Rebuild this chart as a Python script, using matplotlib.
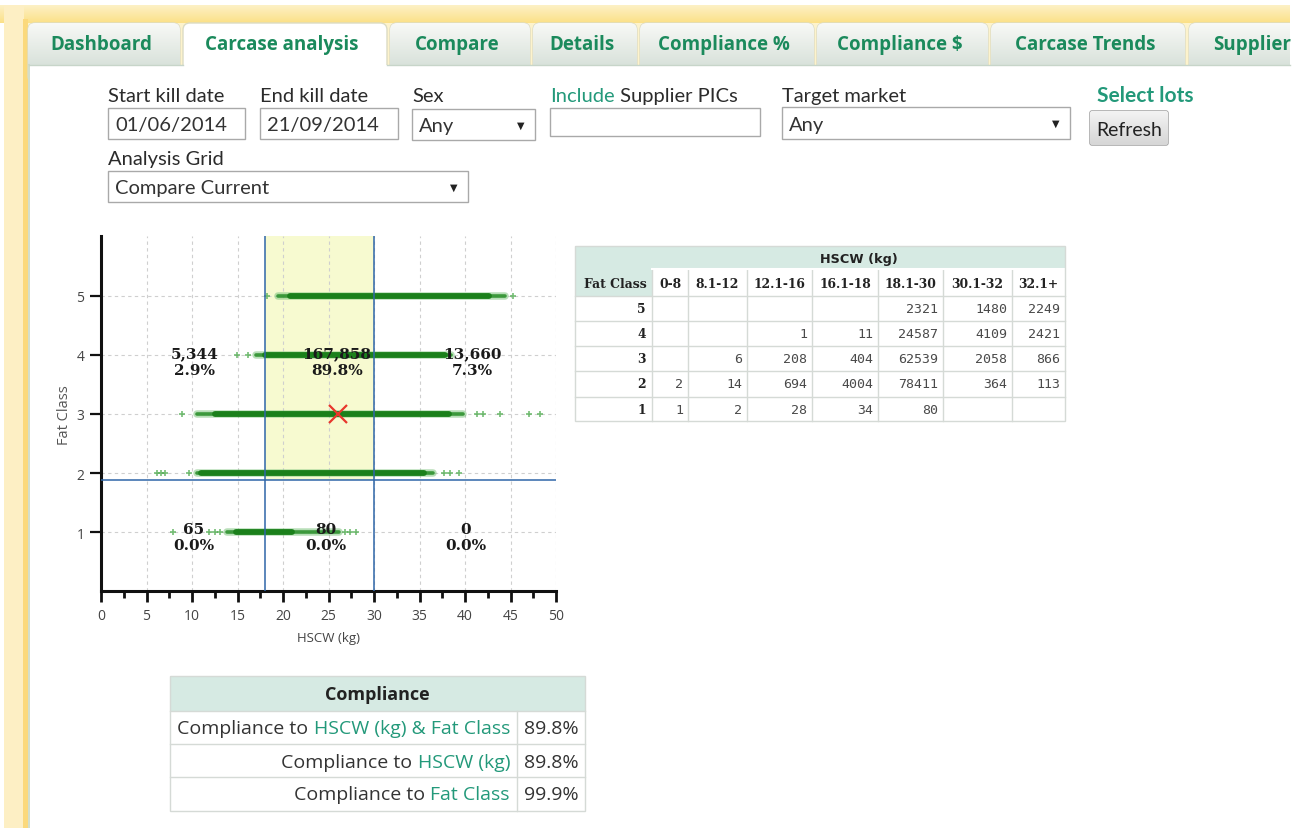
import matplotlib
matplotlib.use('Agg')
import matplotlib.pyplot as plt
from matplotlib.patches import Rectangle, FancyBboxPatch
import numpy as np

# ------------------------------------------------------------------ data
tab_names = ['Dashboard', 'Carcase analysis', 'Compare', 'Details',
             'Compliance %', 'Compliance $', 'Carcase Trends', 'Supplier']
active_tab = 'Carcase analysis'

start_kill_date = '01/06/2014'
end_kill_date = '21/09/2014'
sex_value = 'Any'
target_market = 'Any'
analysis_grid = 'Compare Current'

fat_classes = [5, 4, 3, 2, 1]
streak_outer_start = [19.4, 17.0, 10.5, 10.5, 13.8]
streak_outer_end = [44.4, 38.5, 39.8, 36.5, 26.2]
streak_core_start = [20.8, 18.0, 12.5, 11.0, 14.8]
streak_core_end = [42.6, 37.8, 38.2, 35.5, 21.0]
sparse_fat5 = [18.2, 45.3]
sparse_fat4 = [14.9, 16.2]
sparse_fat3 = [8.9, 41.3, 42.0, 43.9, 47.0, 48.2]
sparse_fat2 = [6.2, 6.6, 7.0, 9.7, 37.7, 38.3, 39.3]
sparse_fat1 = [7.9, 11.9, 12.5, 13.1, 26.8, 27.4, 28.0]

hscw_low, hscw_high = 18, 30
fat_low = 1.89
centroid_hscw, centroid_fat = 26, 3

region_counts = ['5,344', '167,858', '13,660', '65', '80', '0']
region_pcts = ['2.9%', '89.8%', '7.3%', '0.0%', '0.0%', '0.0%']

grid_cols = ['0-8', '8.1-12', '12.1-16', '16.1-18', '18.1-30', '30.1-32', '32.1+']
grid_rows = [5, 4, 3, 2, 1]
grid_fat5 = [None, None, None, None, 2321, 1480, 2249]
grid_fat4 = [None, None, 1, 11, 24587, 4109, 2421]
grid_fat3 = [None, 6, 208, 404, 62539, 2058, 866]
grid_fat2 = [2, 14, 694, 4004, 78411, 364, 113]
grid_fat1 = [1, 2, 28, 34, 80, None, None]

compliance_targets = ['HSCW (kg) & Fat Class', 'HSCW (kg)', 'Fat Class']
compliance_values = ['89.8%', '89.8%', '99.9%']

# ------------------------------------------------------------------ styles
GREEN_TAB = '#1b8a5c'
TEAL = '#23997a'
TEXT = '#2b2b2b'
HEAD_BG = '#d6eae3'
CELL_LINE = '#d5dad6'
BOX_LINE = '#a9a9a9'
UI_FONT = ['Lato', 'DejaVu Sans']
OS_FONT = ['Open Sans', 'DejaVu Sans']
RIGHT = 1290

fig = plt.figure(figsize=(13.01, 8.29), dpi=100)
fig.patch.set_facecolor('white')
ui = fig.add_axes([0, 0, 1, 1])
ui.axis('off')
ui.set_aspect('auto')
renderer = fig.canvas.get_renderer()


def grad_fill(x0, x1, y0, y1, top, bottom, clip=None, z=1):
    c0 = np.array(matplotlib.colors.to_rgb(top))
    c1 = np.array(matplotlib.colors.to_rgb(bottom))
    t = np.linspace(0, 1, 64)[:, None, None]
    img = c0 * (1 - t) + c1 * t
    img = np.repeat(img, 2, axis=1)
    im = ui.imshow(img, extent=[x0, x1, y1, y0], origin='upper',
                   aspect='auto', zorder=z, interpolation='bilinear')
    if clip is not None:
        im.set_clip_path(clip)
    return im


def rect(x0, y0, x1, y1, fc='white', ec='none', lw=1, z=2):
    r = Rectangle((x0, y0), x1 - x0, y1 - y0, fc=fc, ec=ec, lw=lw, zorder=z)
    ui.add_patch(r)
    return r


def txt(x, y, s, size=11, color=TEXT, ha='left', va='center', weight='normal',
        family=UI_FONT, z=6, **kw):
    return ui.text(x, y, s, fontsize=size, color=color, ha=ha, va=va,
                   fontweight=weight, family=family, zorder=z, **kw)


def width_px(t):
    bb = t.get_window_extent(renderer=renderer)
    return bb.width


# ---- page frame
rect(0, 0, 1301, 829, fc='white', z=0)
grad_fill(0, RIGHT, 6, 24, '#fdf1c6', '#fbe087', z=0.5)
rect(4, 24, RIGHT, 66, fc='#fdf3cc', z=0.5)
rect(4, 6, 24, 829, fc='#fdefc4', z=0.6)
rect(23, 20, 28, 829, fc='#fbd97c', z=0.7)
rect(28, 66, 1301, 829, fc='white', z=2)
ui.plot([29, 29], [66, 829], color='#c9d8c3', lw=1.2, zorder=2.5)

# ---- tabs
tab_x = [(28, 180), (183, 387), (390, 530), (533, 637), (640, 814),
         (817, 988), (991, 1185), (1189, RIGHT + 20)]
for name, (x0, x1) in zip(tab_names, tab_x):
    active = name == active_tab
    p = FancyBboxPatch((x0, 24), x1 - x0, 60,
                       boxstyle='round,pad=0,rounding_size=7',
                       fc='white' if active else '#e6ece6',
                       ec='#dcdcc4', lw=1, zorder=1.5 if active else 1)
    ui.add_patch(p)
    if not active:
        grad_fill(x0, x1, 24, 66, '#f8f9f6', '#d9e2db', clip=p, z=1.2)
    if name == tab_names[-1]:
        txt(1213, 45, name, size=13.5, color=GREEN_TAB, weight='bold',
            family=OS_FONT, z=4)
    else:
        txt((x0 + x1) / 2 - 3, 45, name, size=13.5, color=GREEN_TAB,
            weight='bold', family=OS_FONT, ha='center', z=4)
rect(RIGHT, 20, 1301, 66, fc='white', z=1.6)
ui.plot([29, 183], [66, 66], color='#c7d5c9', lw=1, zorder=2.6)
ui.plot([387, RIGHT], [66, 66], color='#c7d5c9', lw=1, zorder=2.6)


# ---- form
def box(x0, y0, x1, y1, text='', arrow=False):
    rect(x0, y0, x1, y1, fc='white', ec=BOX_LINE, lw=1, z=4)
    if text:
        txt(x0 + 7, (y0 + y1) / 2 + 1, text, size=14.5, color='#333333')
    if arrow:
        txt(x1 - 14, (y0 + y1) / 2, '\u25bc', size=7, color='#222222',
            family=['DejaVu Sans'], ha='center')


LBL = 14.5
txt(108, 96, 'Start kill date', size=LBL)
box(108, 109, 245, 140, start_kill_date)
txt(260, 96, 'End kill date', size=LBL)
box(260, 109, 398, 140, end_kill_date)
txt(412, 96, 'Sex', size=LBL)
box(412, 110, 535, 141, sex_value, arrow=True)
t_inc = txt(550, 96, 'Include', size=LBL, color=TEAL)
txt(550 + width_px(t_inc), 96, ' Supplier PICs', size=LBL)
box(550, 109, 760, 137)
txt(782, 96, 'Target market', size=LBL)
box(782, 108, 1070, 140, target_market, arrow=True)
txt(1097, 96, 'Select lots', size=15, color=TEAL, weight='bold')
btn = FancyBboxPatch((1090, 112), 78, 34, boxstyle='round,pad=0,rounding_size=2',
                     fc='#e4e4e4', ec='#9a9a9a', lw=1, zorder=4)
ui.add_patch(btn)
grad_fill(1090, 1168, 112, 146, '#f3f3f3', '#d6d6d6', clip=btn, z=4.1)
txt(1129, 130, 'Refresh', size=14, ha='center', color='#222222')
txt(108, 159, 'Analysis Grid', size=LBL)
box(108, 172, 468, 203, analysis_grid, arrow=True)

# ---- grid table
col_edges = [575, 652, 688, 747, 812, 878, 943, 1012, 1065]
row_edges = [247, 270, 297, 322, 347, 372, 398, 422]
HEAD_FONT = ['DejaVu Serif']
rect(575, 247, 1065, 270, fc=HEAD_BG, z=3)
rect(575, 270, 652, 297, fc=HEAD_BG, z=3)
for xe in col_edges[1:-1]:
    ui.plot([xe, xe], [270, 422], color=CELL_LINE, lw=1, zorder=3.5)
for ye in row_edges[2:-1]:
    ui.plot([575, 1065], [ye, ye], color=CELL_LINE, lw=1, zorder=3.5)
ui.plot([652, 1065], [270, 270], color='white', lw=1.5, zorder=3.5)
ui.add_patch(Rectangle((575, 247), 490, 175, fc='none', ec=CELL_LINE, lw=1,
                       zorder=3.6))
txt((652 + 1065) / 2, 259, 'HSCW (kg)', size=9.3, weight='bold',
    family=['DejaVu Sans'], ha='center', color='#222222')
txt(647, 284, 'Fat Class', size=8.9, weight='bold', family=HEAD_FONT,
    ha='right', color='#222222')
for i, c in enumerate(grid_cols):
    txt((col_edges[i + 1] + col_edges[i + 2]) / 2, 284, c, size=8.9,
        weight='bold', family=HEAD_FONT, ha='center', color='#222222')
grid_vals = [grid_fat5, grid_fat4, grid_fat3, grid_fat2, grid_fat1]
for r, (fc_, vals) in enumerate(zip(grid_rows, grid_vals)):
    yc = (row_edges[r + 2] + row_edges[r + 3]) / 2
    txt(646, yc, str(fc_), size=8.9, weight='bold', family=HEAD_FONT,
        ha='right', color='#222222')
    for i, v in enumerate(vals):
        if v is not None:
            txt(col_edges[i + 2] - 5, yc, str(v), size=9.5,
                family=['DejaVu Sans Mono'], ha='right', color='#4a4a4a')

# ---- compliance table
rect(170, 677, 585, 712, fc=HEAD_BG, z=3)
for ye in [712, 745, 778]:
    ui.plot([170, 585], [ye, ye], color=CELL_LINE, lw=1, zorder=3.5)
ui.plot([517, 517], [712, 812], color=CELL_LINE, lw=1, zorder=3.5)
ui.add_patch(Rectangle((170, 677), 415, 135, fc='none', ec=CELL_LINE, lw=1,
                       zorder=3.6))
txt(377, 695, 'Compliance', size=13, weight='bold', family=OS_FONT,
    ha='center', color='#222222')
for k, (tgt, val) in enumerate(zip(compliance_targets, compliance_values)):
    yc = (712 + 33 * k + 712 + 33 * (k + 1)) / 2 + 1
    t2 = txt(510, yc, tgt, size=14, color=TEAL, ha='right', family=OS_FONT)
    txt(510 - width_px(t2), yc, 'Compliance to ', size=14, color='#333333',
        ha='right', family=OS_FONT)
    txt(551, yc, val, size=14, color='#333333', ha='center', family=OS_FONT)

ui.set_xlim(0, 1301)
ui.set_ylim(829, 0)

# ------------------------------------------------------------------ chart
ax = fig.add_axes([101 / 1301, (829 - 592.4) / 829, 455 / 1301, 355.4 / 829])
ax.patch.set_alpha(0)
ax.set_xlim(0, 50)
ax.set_ylim(0, 6.01)

ax.fill_between([hscw_low, hscw_high], fat_low, 6.01, color='#f7fad0',
                zorder=0.5, lw=0)
for gx in range(5, 55, 5):
    ax.plot([gx, gx], [0, 6.01], color='#cfcfcf', lw=0.8, ls=(0, (3, 3)),
            zorder=0.8)
for gy in fat_classes:
    ax.plot([0, 50], [gy, gy], color='#cfcfcf', lw=0.8, ls=(0, (3, 3)),
            zorder=0.8)

sparse = [sparse_fat5, sparse_fat4, sparse_fat3, sparse_fat2, sparse_fat1]
for fy, os_, oe, cs, ce, sp in zip(fat_classes, streak_outer_start,
                                   streak_outer_end, streak_core_start,
                                   streak_core_end, sparse):
    ax.plot([os_, oe], [fy, fy], color='#7cc47c', lw=5.4, alpha=0.55,
            solid_capstyle='round', zorder=2)
    ax.plot([os_, oe], [fy, fy], color='#2f922f', lw=2.6, alpha=0.9,
            solid_capstyle='round', zorder=2.1)
    ax.plot([cs, ce], [fy, fy], color='#1b801b', lw=4.2,
            solid_capstyle='round', zorder=2.2)
    ax.plot(sp, [fy] * len(sp), ls='none', marker='+', ms=4.5, mew=1.2,
            color='#52ad52', alpha=0.8, zorder=2.3)

ax.axvline(hscw_low, color='#2f66a8', lw=1.1, zorder=3)
ax.axvline(hscw_high, color='#2f66a8', lw=1.1, zorder=3)
ax.axhline(fat_low, color='#2f66a8', lw=1.1, zorder=3)
ax.plot([centroid_hscw], [centroid_fat], marker='x', ms=13, mew=1.6,
        color='#e8372c', zorder=4)

label_x = [10.3, 25.9, 40.8, 10.15, 24.75, 40.1]
label_y = [4.02, 4.02, 4.02, 1.06, 1.06, 1.06]
for lx, ly, cnt, pct in zip(label_x, label_y, region_counts, region_pcts):
    ax.text(lx, ly, cnt, ha='center', va='center', fontsize=11,
            fontweight='bold', family=['DejaVu Serif'], color='#1a1a1a',
            zorder=5)
    ax.text(lx, ly - 0.27, pct, ha='center', va='center', fontsize=11,
            fontweight='bold', family=['DejaVu Serif'], color='#1a1a1a',
            zorder=5)

for s in ['top', 'right']:
    ax.spines[s].set_visible(False)
for s in ['left', 'bottom']:
    ax.spines[s].set_linewidth(2.2)
    ax.spines[s].set_color('#111111')
ax.set_xticks(range(0, 55, 5))
ax.set_xticks(np.arange(2.5, 50, 5), minor=True)
ax.set_yticks(fat_classes)
ax.tick_params(axis='x', which='major', length=8, width=2, color='#111111',
               labelsize=10, labelcolor='#444444', pad=4)
ax.tick_params(axis='x', which='minor', length=5, width=2, color='#111111')
ax.tick_params(axis='y', which='major', length=8, width=1.6, color='#111111',
               labelsize=10, labelcolor='#444444', pad=4)
for lab in ax.get_xticklabels() + ax.get_yticklabels():
    lab.set_family(OS_FONT)
ax.set_xlabel('HSCW (kg)', fontsize=9.5, color='#444444', family=OS_FONT,
              labelpad=6)
ax.set_ylabel('Fat Class', fontsize=10.5, color='#555555', family=OS_FONT,
              labelpad=3)

fig.savefig('out.png', dpi=100)
